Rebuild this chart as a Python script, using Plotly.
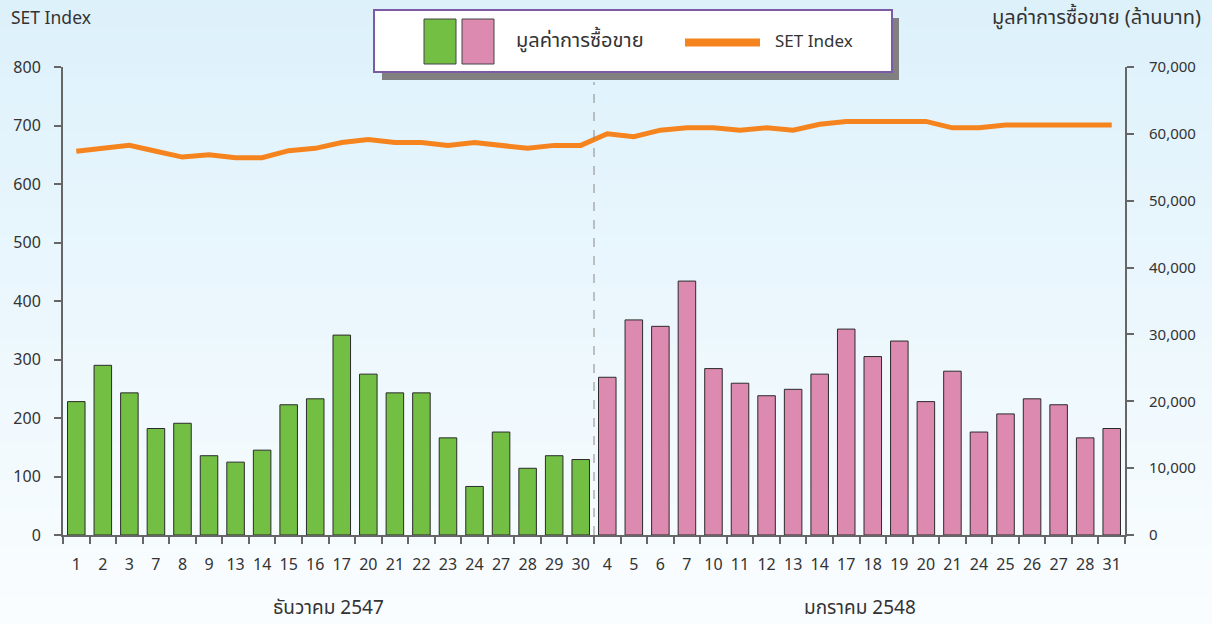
import plotly.graph_objects as go

# ---------------- data ----------------
dec_days = ["1", "2", "3", "7", "8", "9", "13", "14", "15", "16",
            "17", "20", "21", "22", "23", "24", "27", "28", "29", "30"]
jan_days = ["4", "5", "6", "7", "10", "11", "12", "13", "14", "17",
            "18", "19", "20", "21", "24", "25", "26", "27", "28", "31"]

# trading value (million baht)
dec_value = [19950, 25380, 21260, 15930, 16710, 11860, 10900, 12690, 19480, 20370,
             29900, 24060, 21260, 21260, 14530, 7260, 15400, 9980, 11860, 11290]
jan_value = [23590, 32170, 31210, 37980, 24890, 22700, 20830, 21790, 24060, 30800,
             26690, 29010, 19950, 24500, 15400, 18110, 20370, 19480, 14530, 15930]

# SET Index
dec_set = [656, 661, 666, 656, 646, 650, 645, 645, 657, 661,
           671, 676, 671, 671, 666, 671, 666, 661, 666, 666]
jan_set = [686, 681, 692, 696, 696, 692, 696, 692, 702, 707,
           707, 707, 707, 696, 696, 701, 701, 701, 701, 701]

month_labels = ["ธันวาคม 2547", "มกราคม 2548"]
left_title = "SET Index"
right_title = "มูลค่าการซื้อขาย (ล้านบาท)"
legend_bar_text = "มูลค่าการซื้อขาย"
legend_line_text = "SET Index"

left_ticks = [0, 100, 200, 300, 400, 500, 600, 700, 800]
right_ticks = [0, 10000, 20000, 30000, 40000, 50000, 60000, 70000]

# ---------------- layout geometry ----------------
W, H = 1212, 624
L, R, T, B = 63, 87, 67, 89
PW, PH = W - L - R, H - T - B


def px(x):
    return (x - L) / PW


def py(y):
    return (H - B - y) / PH


GREEN = "#72bf44"
PINK = "#dc8ab0"
ORANGE = "#f5841f"
TEXT = "#333333"
AXIS = "#666666"
FONT = "Noto Sans Thai, Tahoma, Noto Sans, sans-serif"

days = dec_days + jan_days
n_dec = len(dec_days)
xs_dec = list(range(n_dec))
xs_jan = list(range(n_dec, n_dec + len(jan_days)))
xs_all = xs_dec + xs_jan

fig = go.Figure()

fig.add_trace(go.Bar(x=xs_dec, y=dec_value, yaxis="y2", width=0.66,
                     marker=dict(color=GREEN, line=dict(color="#2b2b2b", width=1)),
                     showlegend=False, name=legend_bar_text))
fig.add_trace(go.Bar(x=xs_jan, y=jan_value, yaxis="y2", width=0.66,
                     marker=dict(color=PINK, line=dict(color="#2b2b2b", width=1)),
                     showlegend=False, name=legend_bar_text))
fig.add_trace(go.Scatter(x=xs_all, y=dec_set + jan_set, yaxis="y", mode="lines",
                         line=dict(color=ORANGE, width=5), showlegend=False,
                         name=legend_line_text))

shapes = []
# background gradient
top_c = (221, 241, 251)
bot_c = (250, 253, 255)
nb = 48
for i in range(nb):
    t = i / (nb - 1)
    c = tuple(round(top_c[k] + (bot_c[k] - top_c[k]) * t) for k in range(3))
    y0 = H * i / nb
    y1 = H * (i + 1) / nb + 1
    shapes.append(dict(type="rect", xref="paper", yref="paper", layer="below",
                       x0=px(0), x1=px(W), y0=py(y1), y1=py(y0),
                       fillcolor="rgb(%d,%d,%d)" % c, line=dict(width=0)))

# month divider
shapes.append(dict(type="line", xref="x", yref="paper", x0=n_dec - 0.5, x1=n_dec - 0.5,
                   y0=0, y1=py(82), line=dict(color="#888888", width=1, dash="dash"),
                   layer="above"))

# legend box (shadow, box, swatches)
shapes.append(dict(type="rect", xref="paper", yref="paper",
                   x0=px(382), x1=px(899), y0=py(80), y1=py(18),
                   fillcolor="#808080", line=dict(width=0)))
shapes.append(dict(type="rect", xref="paper", yref="paper",
                   x0=px(374), x1=px(892), y0=py(72), y1=py(10),
                   fillcolor="white", line=dict(color="#7b5aa6", width=2)))
shapes.append(dict(type="rect", xref="paper", yref="paper",
                   x0=px(424), x1=px(456), y0=py(64), y1=py(19),
                   fillcolor=GREEN, line=dict(color="#444444", width=1)))
shapes.append(dict(type="rect", xref="paper", yref="paper",
                   x0=px(462), x1=px(494), y0=py(64), y1=py(19),
                   fillcolor=PINK, line=dict(color="#444444", width=1)))
shapes.append(dict(type="line", xref="paper", yref="paper",
                   x0=px(685), x1=px(760), y0=py(42.5), y1=py(42.5),
                   line=dict(color=ORANGE, width=8)))

annotations = [
    dict(text=legend_bar_text, xref="paper", yref="paper", x=px(514), y=py(41),
         xanchor="left", yanchor="middle", showarrow=False,
         font=dict(size=20, color=TEXT, family=FONT)),
    dict(text=legend_line_text, xref="paper", yref="paper", x=px(773), y=py(42),
         xanchor="left", yanchor="middle", showarrow=False,
         font=dict(size=17, color=TEXT, family=FONT)),
    dict(text=left_title, xref="paper", yref="paper", x=px(9), y=py(19),
         xanchor="left", yanchor="middle", showarrow=False,
         font=dict(size=17.5, color=TEXT, family=FONT)),
    dict(text=right_title, xref="paper", yref="paper", x=px(1203), y=py(18),
         xanchor="right", yanchor="middle", showarrow=False,
         font=dict(size=20, color=TEXT, family=FONT)),
    dict(text=month_labels[0], xref="x", yref="paper", x=(n_dec - 1) / 2, y=py(608),
         xanchor="center", yanchor="middle", showarrow=False,
         font=dict(size=19, color=TEXT, family=FONT)),
    dict(text=month_labels[1], xref="x", yref="paper", x=n_dec + (len(jan_days) - 1) / 2,
         y=py(608), xanchor="center", yanchor="middle", showarrow=False,
         font=dict(size=19, color=TEXT, family=FONT)),
]

fig.update_layout(
    width=W, height=H,
    margin=dict(l=L, r=R, t=T, b=B, pad=0, autoexpand=False),
    paper_bgcolor="rgba(0,0,0,0)", plot_bgcolor="rgba(0,0,0,0)",
    font=dict(family=FONT, color=TEXT, size=15),
    barmode="overlay",
    showlegend=False,
    shapes=shapes,
    annotations=annotations,
    xaxis=dict(range=[-0.5, len(days) - 0.5], tickmode="array", tickvals=xs_all,
               ticktext=days, ticks="", showgrid=False, zeroline=False,
               showline=True, linecolor=AXIS, linewidth=2, automargin=False,
               ticklabelstandoff=14, tickfont=dict(size=16, color=TEXT),
               minor=dict(tickmode="array",
                          tickvals=[i - 0.5 for i in range(len(days) + 1)],
                          ticks="outside", ticklen=7, tickcolor=AXIS, tickwidth=1.5)),
    yaxis=dict(range=[0, 800], tickvals=left_ticks, ticks="outside", ticklen=7,
               tickcolor=AXIS, tickwidth=1.5, showgrid=False, zeroline=False,
               showline=True, linecolor=AXIS, linewidth=2, ticklabelstandoff=10,
               automargin=False, tickfont=dict(size=16, color=TEXT)),
    yaxis2=dict(range=[0, 70000], tickvals=right_ticks, overlaying="y", side="right",
                ticks="outside", ticklen=7, tickcolor=AXIS, tickwidth=1.5,
                showgrid=False, zeroline=False, showline=True, linecolor=AXIS,
                linewidth=2, tickformat=",d", ticklabelstandoff=12, automargin=False,
                tickfont=dict(size=15, color=TEXT)),
)

fig.write_html(
    "out.html",
    config={"displayModeBar": False},
    post_script="document.body.style.margin='0';"
                "document.documentElement.style.overflow='hidden';"
                "document.body.style.overflow='hidden';",
)
